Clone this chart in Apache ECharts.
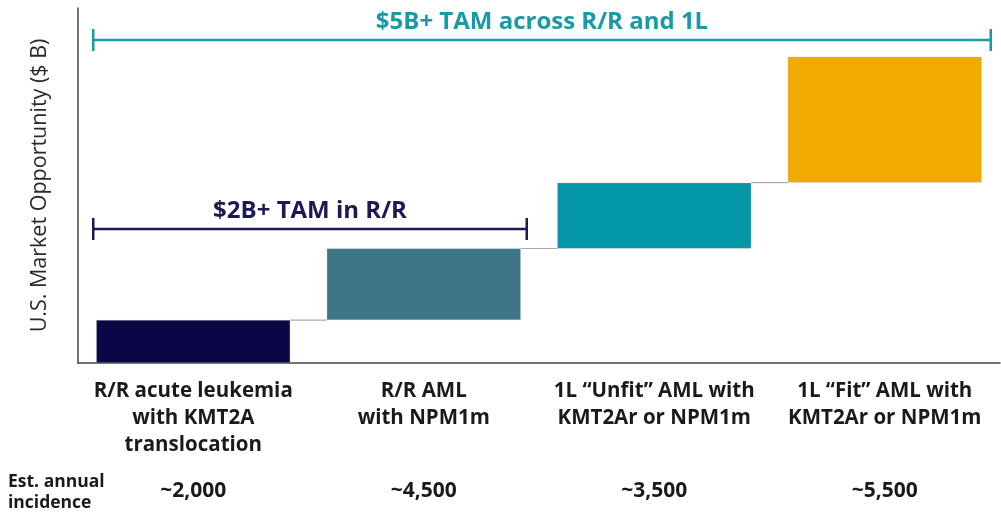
<!DOCTYPE html>
<html>
<head>
<meta charset="utf-8">
<script src="https://cdn.jsdelivr.net/npm/echarts@6/dist/echarts.min.js"></script>
<style>
  html, body { margin: 0; padding: 0; background: #fff; }
  #chart { width: 1001px; height: 513px; }
</style>
</head>
<body>
<div id="chart"></div>
<script>
// market opportunity per segment ($B)
const categories = [
  'R/R acute leukemia\nwith KMT2A\ntranslocation',
  'R/R AML\nwith NPM1m',
  '1L \u201cUnfit\u201d AML with\nKMT2Ar or NPM1m',
  '1L \u201cFit\u201d AML with\nKMT2Ar or NPM1m'
];
const values = [0.75, 1.25, 1.15, 2.2];
const barColors = ['#0b0645', '#3d7587', '#0397a8', '#f0aa00'];
const incidence = ['~2,000', '~4,500', '~3,500', '~5,500'];
// brackets: [first category, last category, level ($B), label, colour]
const brackets = [
  [0, 3, 5.64, '$5B+ TAM across R/R and 1L', '#1a9aa5'],
  [0, 1, 2.34, '$2B+ TAM in R/R', '#1b1a55']
];

const font = 'Open Sans';
const barW = 194;
let base = [], tops = [], run = 0;
values.forEach(v => { base.push(run); run += v; tops.push(run); });

const chart = echarts.init(document.getElementById('chart'));
chart.setOption({
  animation: false,
  textStyle: { fontFamily: font },
  grid: { left: 78, right: 1, top: 8, bottom: 150 },
  xAxis: [{
    type: 'category',
    data: categories,
    axisLine: { lineStyle: { color: '#444', width: 1.5 } },
    axisTick: { show: false },
    axisLabel: {
      interval: 0, margin: 15, fontSize: 20.5, fontWeight: 'bold',
      lineHeight: 27, color: '#1a1a1a', fontFamily: font
    }
  }, {
    type: 'category',
    position: 'bottom',
    offset: 110,
    data: incidence,
    axisLine: { show: false },
    axisTick: { show: false },
    axisLabel: { interval: 0, fontSize: 21, fontWeight: 'bold', color: '#1a1a1a', fontFamily: font }
  }],
  yAxis: {
    type: 'value', min: 0, max: 6.2,
    name: 'U.S. Market Opportunity ($ B)',
    nameLocation: 'middle', nameGap: 27, nameRotate: 90,
    nameTextStyle: { fontSize: 21.5, color: '#2a2a2a', fontFamily: font },
    axisLine: { show: true, lineStyle: { color: '#444', width: 1.5 } },
    axisTick: { show: false },
    axisLabel: { show: false },
    splitLine: { show: false }
  },
  graphic: [{
    type: 'text', left: 8, top: 472,
    style: { text: 'Est. annual\nincidence', fontSize: 17.5, fontWeight: 'bold', lineHeight: 21, fill: '#1a1a1a', fontFamily: font }
  }],
  series: [{
    // connectors between consecutive bars
    type: 'custom',
    z: 1,
    data: tops.slice(0, -1).map((t, i) => [i, t]),
    renderItem: (params, api) => {
      const a = api.coord([api.value(0), api.value(1)]);
      const b = api.coord([api.value(0) + 1, api.value(1)]);
      return { type: 'line', shape: { x1: a[0] + barW / 2, y1: a[1], x2: b[0] - barW / 2, y2: b[1] },
        style: { stroke: '#aaa', lineWidth: 1.2 } };
    }
  }, {
    type: 'bar', stack: 'w', z: 2,
    data: base,
    itemStyle: { color: 'transparent' },
    barWidth: barW
  }, {
    type: 'bar', stack: 'w', z: 2,
    data: values.map((v, i) => ({ value: v, itemStyle: { color: barColors[i] } })),
    itemStyle: { borderColor: 'rgba(180,180,180,0.5)', borderWidth: 0.6 },
    barWidth: barW
  }, {
    type: 'custom',
    z: 3,
    data: brackets,
    renderItem: (params, api) => {
      const d = brackets[params.dataIndex];
      const p0 = api.coord([d[0], d[2]]);
      const p1 = api.coord([d[1], d[2]]);
      const x1 = p0[0] - 100, x2 = p1[0] + (d[1] === 3 ? 106 : 103), y = p0[1];
      const st = { stroke: d[4], lineWidth: 2.5 };
      return { type: 'group', children: [
        { type: 'line', shape: { x1: x1, y1: y, x2: x2, y2: y }, style: st },
        { type: 'line', shape: { x1: x1, y1: y - 11, x2: x1, y2: y + 11 }, style: st },
        { type: 'line', shape: { x1: x2, y1: y - 11, x2: x2, y2: y + 11 }, style: st },
        { type: 'text', x: (x1 + x2) / 2, y: y - 18,
          style: { text: d[3], fill: d[4], fontSize: 24, fontWeight: 'bold', fontFamily: font,
            align: 'center', verticalAlign: 'middle' } }
      ] };
    }
  }]
});
</script>
</body>
</html>
